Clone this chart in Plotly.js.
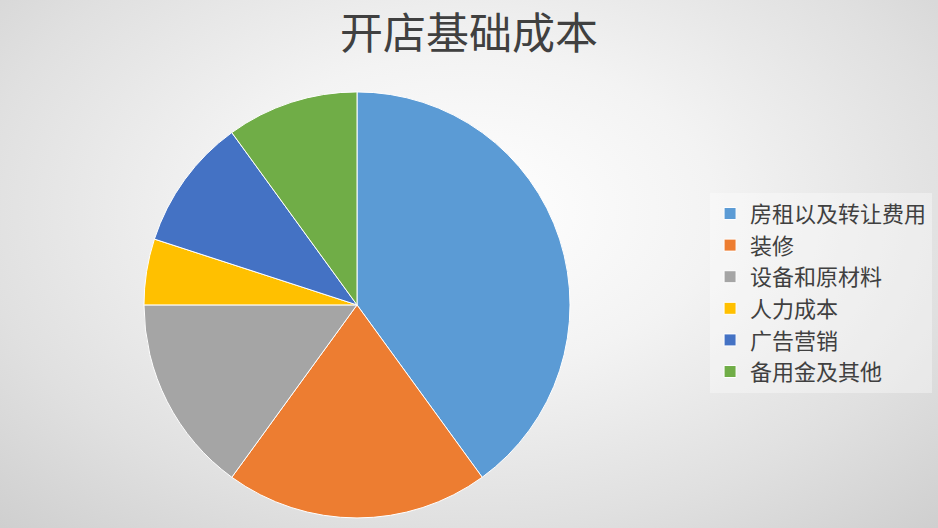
<!DOCTYPE html>
<html>
<head>
<meta charset="utf-8">
<script src="https://cdn.plot.ly/plotly-3.0.1.min.js"></script>
<style>
  html, body { margin: 0; padding: 0; }
  #chart {
    width: 938px;
    height: 528px;
    background: radial-gradient(ellipse 75% 85% at 50% 40%, #ffffff 0%, #f3f3f3 35%, #e0e0e0 70%, #cdcdcd 100%);
  }
</style>
</head>
<body>
<div id="chart"></div>
<script>
  // 开店基础成本 - share of each cost item (percent)
  var categories = ['房租以及转让费用', '装修', '设备和原材料', '人力成本', '广告营销', '备用金及其他'];
  var shares = [40, 20, 15, 5, 10, 10];
  var palette = ['#5B9BD5', '#ED7D31', '#A5A5A5', '#FFC000', '#4472C4', '#70AD47'];

  var trace = {
    type: 'pie',
    labels: categories,
    values: shares,
    sort: false,
    direction: 'clockwise',
    rotation: 0,
    textinfo: 'none',
    hoverinfo: 'label+percent',
    marker: {
      colors: palette,
      line: { color: '#ffffff', width: 1 }
    },
    domain: { x: [0.1535, 0.6077], y: [0.019, 0.826] }
  };

  var layout = {
    width: 938,
    height: 528,
    margin: { t: 0, r: 0, b: 0, l: 0 },
    paper_bgcolor: 'rgba(0,0,0,0)',
    plot_bgcolor: 'rgba(0,0,0,0)',
    font: { family: '"Noto Sans CJK SC", sans-serif', color: '#404040' },
    title: {
      text: '开店基础成本',
      font: { size: 43, color: '#404040', family: '"Noto Sans CJK SC", sans-serif' },
      x: 0.5,
      xanchor: 'center',
      y: 0.935,
      yanchor: 'middle'
    },
    showlegend: true,
    legend: {
      x: 0.757,
      xanchor: 'left',
      y: 0.635,
      yanchor: 'top',
      bgcolor: 'rgba(255,255,255,0.35)',
      borderwidth: 0,
      font: { size: 22, color: '#404040' },
      traceorder: 'normal'
    }
  };

  Plotly.newPlot('chart', [trace], layout, { displayModeBar: false, staticPlot: true });
</script>
</body>
</html>
